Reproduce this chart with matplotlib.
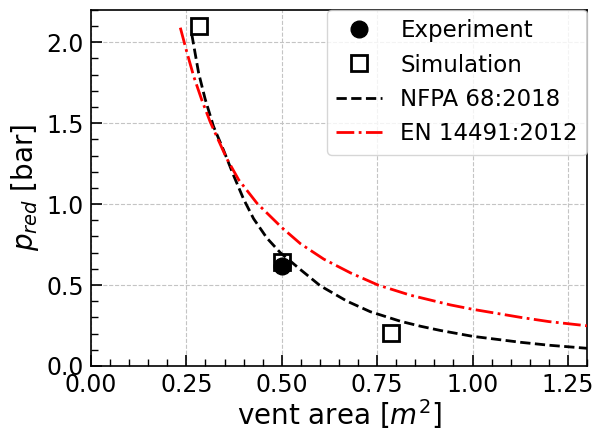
import numpy as np
import matplotlib
matplotlib.use('Agg')
import matplotlib.pyplot as plt
from matplotlib.ticker import MultipleLocator

# measured peak pressures
exp_area = [0.50]
exp_pred = [0.62]

sim_area = [0.284, 0.50, 0.785]
sim_pred = [2.10, 0.645, 0.206]

# NFPA 68:2018 design curve
nfpa_area = [0.264, 0.282, 0.299, 0.321, 0.347, 0.374, 0.400, 0.426, 0.461, 0.496,
             0.549, 0.601, 0.671, 0.732, 0.811, 0.864, 0.916, 1.000, 1.126, 1.200,
             1.300]
nfpa_pred = [2.05, 1.81, 1.65, 1.48, 1.335, 1.175, 1.03, 0.91, 0.79, 0.70,
             0.595, 0.495, 0.40, 0.335, 0.276, 0.245, 0.219, 0.183, 0.146, 0.128,
             0.109]

# EN 14491:2012 design curve
en_area = [0.234, 0.251, 0.269, 0.290, 0.312, 0.330, 0.356, 0.387, 0.435, 0.500,
           0.549, 0.610, 0.680, 0.752, 0.837, 0.942, 1.000, 1.126, 1.200, 1.300]
en_pred = [2.09, 1.94, 1.79, 1.645, 1.51, 1.415, 1.28, 1.15, 1.005, 0.855,
           0.755, 0.66, 0.575, 0.50, 0.437, 0.377, 0.350, 0.300, 0.274, 0.248]

fig = plt.figure(figsize=(5.95, 4.3), dpi=100)
ax = fig.add_subplot(111)
fig.subplots_adjust(left=0.153, right=0.9866, bottom=0.149, top=0.977)

ax.plot(exp_area, exp_pred, 'o', color='k', ms=12, label='Experiment', zorder=4)
ax.plot(sim_area, sim_pred, 's', mfc='none', mec='k', mew=2, ms=12,
        label='Simulation', zorder=5)
ax.plot(nfpa_area, nfpa_pred, '--', color='k', lw=2, label='NFPA 68:2018', zorder=3)
ax.plot(en_area, en_pred, '-.', color='r', lw=2, label='EN 14491:2012', zorder=3)

ax.set_xlim(0, 1.3)
ax.set_ylim(0, 2.2)
ax.xaxis.set_major_locator(MultipleLocator(0.25))
ax.xaxis.set_minor_locator(MultipleLocator(0.05))
ax.yaxis.set_major_locator(MultipleLocator(0.5))
ax.yaxis.set_minor_locator(MultipleLocator(0.1))
ax.tick_params(which='major', direction='in', length=8, width=1.2, labelsize=17, pad=5)
ax.tick_params(which='minor', direction='in', length=5, width=1.0)
for s in ax.spines.values():
    s.set_linewidth(1.2)

ax.grid(True, which='major', ls='--', color='#c4c4c4', lw=0.8)
ax.set_axisbelow(True)

ax.set_xlabel('vent area [$m^2$]', fontsize=20, labelpad=0)
ax.set_ylabel('$p_{red}$ [bar]', fontsize=20)

ax.legend(loc='upper right', fontsize=16.5, borderaxespad=0)

plt.savefig('out.png', dpi=100)
